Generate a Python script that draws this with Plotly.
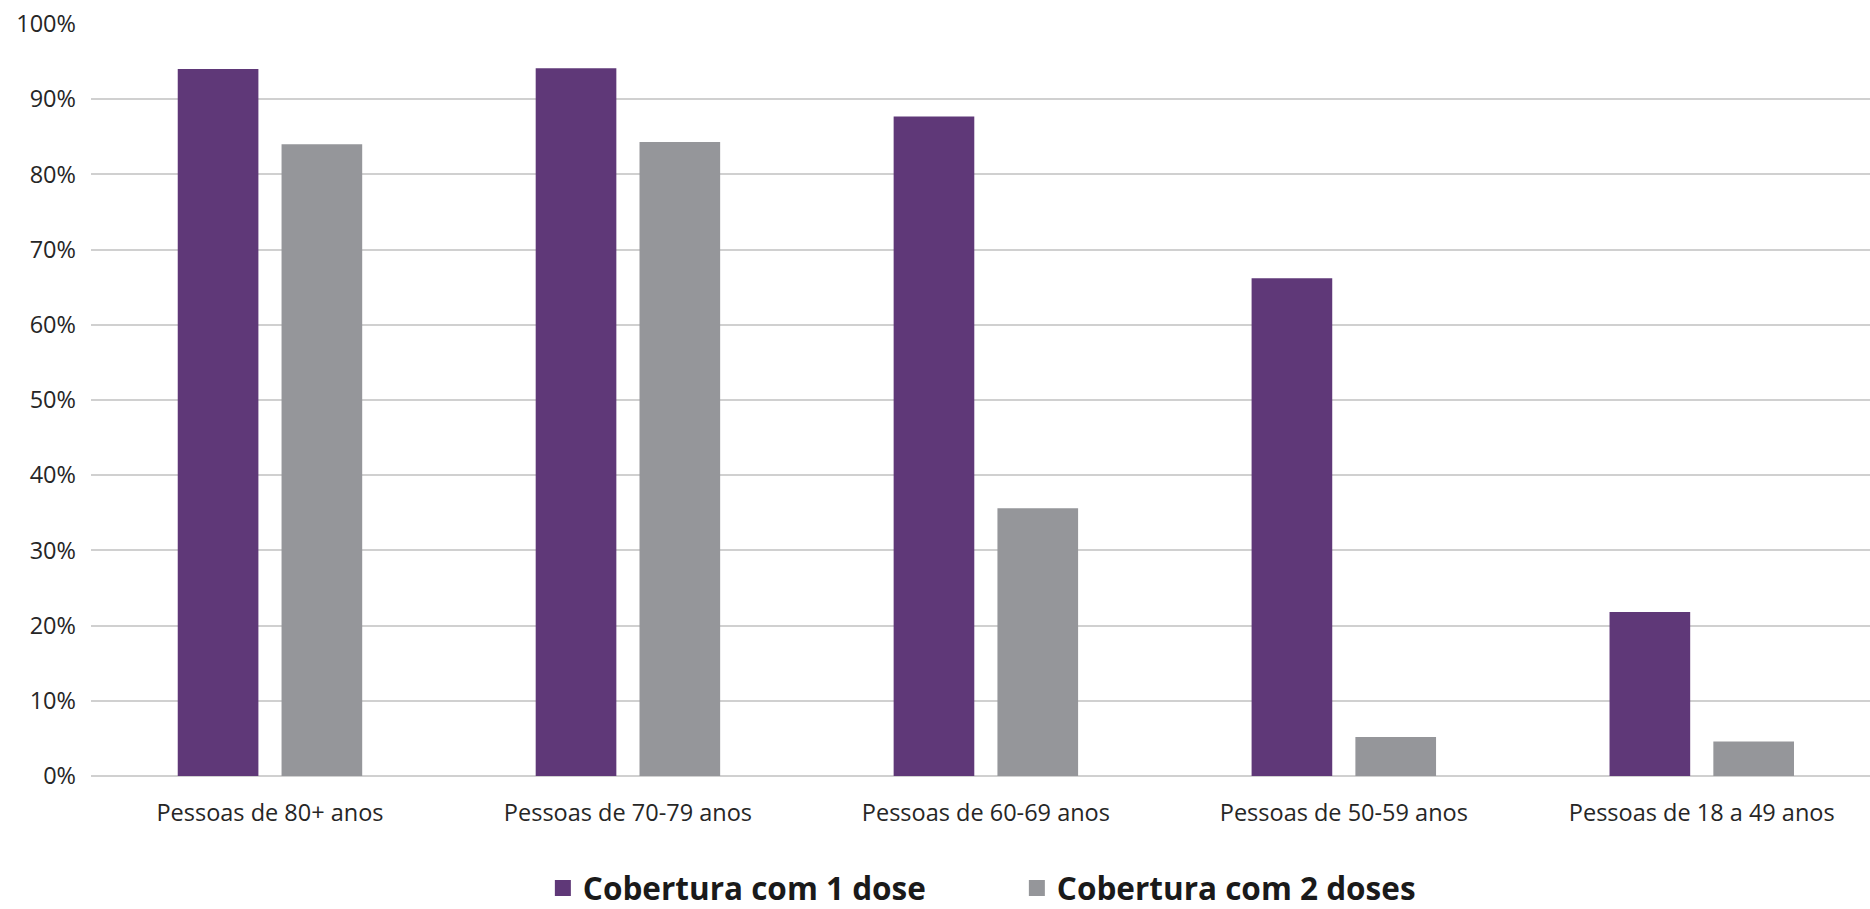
import plotly.graph_objects as go

categories = ["Pessoas de 80+ anos", "Pessoas de 70-79 anos", "Pessoas de 60-69 anos",
              "Pessoas de 50-59 anos", "Pessoas de 18 a 49 anos"]
dose1 = [94.0, 94.1, 87.7, 66.2, 21.8]
dose2 = [84.0, 84.3, 35.6, 5.2, 4.6]
series_names = ["Cobertura com 1 dose", "Cobertura com 2 doses"]
colors = ["#5f3878", "#95969a"]
y_ticks = [0, 10, 20, 30, 40, 50, 60, 70, 80, 90, 100]
y_tick_labels = ["0%", "10%", "20%", "30%", "40%", "50%", "60%", "70%", "80%", "90%", "100%"]

FONT = "Open Sans"
TXT = "#262626"

fig = go.Figure()
for vals, name, col in zip([dose1, dose2], series_names, colors):
    fig.add_trace(go.Bar(x=categories, y=vals, name=name, marker_color=col,
                         marker_line_width=0, showlegend=False))
# legend-only entries with larger square symbols
for name, col in zip(series_names, colors):
    fig.add_trace(go.Scatter(x=[None], y=[None], mode="markers", name=name,
                             marker=dict(symbol="square", size=22, color=col)))

fig.update_layout(
    width=1870, height=909,
    margin=dict(l=91, r=0, t=24, b=133, autoexpand=False),
    plot_bgcolor="white", paper_bgcolor="white",
    barmode="group", bargap=0.42, bargroupgap=0.223,
    font=dict(family=FONT, color=TXT),
    legend=dict(orientation="h", x=0.254, xanchor="left", y=-0.113, yanchor="top",
                font=dict(family=FONT, size=31.5, color="#1a1a1a", weight="bold"),
                itemsizing="trace", entrywidth=429, itemwidth=30),
)
fig.update_xaxes(range=[-0.5, 4.47], showgrid=False, showline=False, ticks="",
                 tickfont=dict(size=23.5, color=TXT), ticklabelstandoff=20)
fig.update_yaxes(range=[0, 100], tickvals=y_ticks, ticktext=y_tick_labels,
                 showgrid=True, gridcolor="#d0d0d0", gridwidth=1.5,
                 zeroline=True, zerolinecolor="#d0d0d0", zerolinewidth=1.5,
                 showline=False, ticks="", tickfont=dict(size=23.5, color=TXT),
                 ticklabelstandoff=14)

fig.write_html("out.html")
